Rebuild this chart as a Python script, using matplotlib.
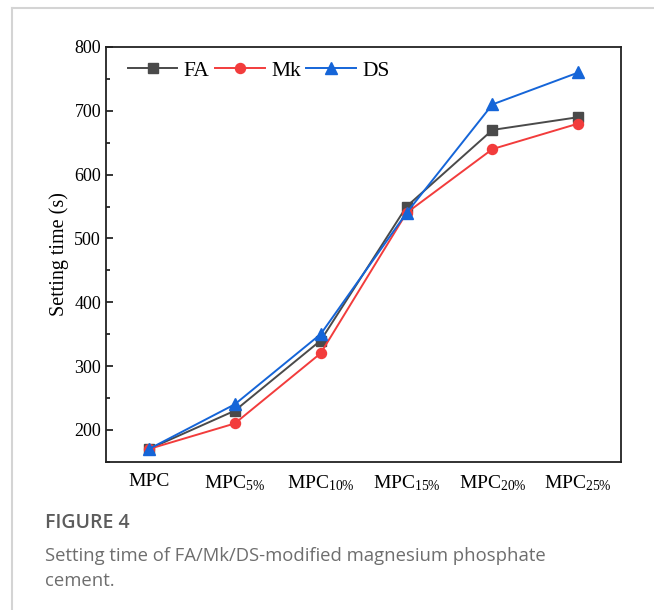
import matplotlib
matplotlib.use('Agg')
import matplotlib.pyplot as plt
from matplotlib.lines import Line2D
from matplotlib.ticker import MultipleLocator

categories = ['MPC', r'MPC$_{5\%}$', r'MPC$_{10\%}$', r'MPC$_{15\%}$', r'MPC$_{20\%}$', r'MPC$_{25\%}$']
fa = [170, 230, 340, 550, 670, 690]
mk = [170, 210, 320, 540, 640, 680]
ds = [170, 240, 350, 540, 710, 760]

plt.rcParams['font.family'] = 'Liberation Serif'
plt.rcParams['mathtext.default'] = 'regular'

fig = plt.figure(figsize=(6.54, 6.10), dpi=100)
ax = fig.add_axes([0.162, 0.243, 0.788, 0.680])

x = range(len(categories))
ax.plot(x, fa, color='#4a4a4a', marker='s', markersize=6.5, linewidth=1.4, label='FA')
ax.plot(x, mk, color='#f23c3c', marker='o', markersize=7.2, linewidth=1.4, label='Mk')
ax.plot(x, ds, color='#1565d8', marker='^', markersize=8.5, linewidth=1.4, label='DS')

ax.set_xlim(-0.5, 5.5)
ax.set_ylim(150, 800)
ax.set_xticks(list(x))
ax.set_xticklabels(categories)
ax.yaxis.set_major_locator(MultipleLocator(100))
ax.yaxis.set_minor_locator(MultipleLocator(50))
ax.tick_params(axis='y', which='major', direction='in', length=5, width=1.1, labelsize=13)
ax.tick_params(axis='y', which='minor', direction='in', length=3, width=1.1)
ax.tick_params(axis='x', length=0, labelsize=14, pad=8)
ax.set_ylabel('Setting time (s)', fontsize=14.5)
for s in ax.spines.values():
    s.set_linewidth(1.3)
    s.set_color('#222222')

ax.legend(loc='center left', ncol=3, frameon=False, fontsize=15.5,
          handlelength=2.3, handletextpad=0.3, columnspacing=0.25,
          borderpad=0, borderaxespad=0,
          bbox_to_anchor=(22 / 515, 1 - 24 / 415))

# page frame lines
fig.add_artist(Line2D([12 / 654, 1], [1 - 8 / 610, 1 - 8 / 610], color='#d4d4d4', linewidth=1.5))
fig.add_artist(Line2D([12 / 654, 12 / 654], [0, 1 - 8 / 610], color='#d4d4d4', linewidth=1.5))

fig.text(45 / 654, 1 - 523 / 610, 'FIGURE 4', fontsize=14, color='#5c5c5c',
         family='Open Sans', fontweight='semibold', va='center')
fig.text(45 / 654, 1 - 556 / 610, 'Setting time of FA/Mk/DS-modified magnesium phosphate',
         fontsize=13.3, color='#6e6e6e', family='Open Sans', va='center')
fig.text(45 / 654, 1 - 581 / 610, 'cement.', fontsize=13.3, color='#6e6e6e',
         family='Open Sans', va='center')

fig.savefig('out.png', dpi=100)
